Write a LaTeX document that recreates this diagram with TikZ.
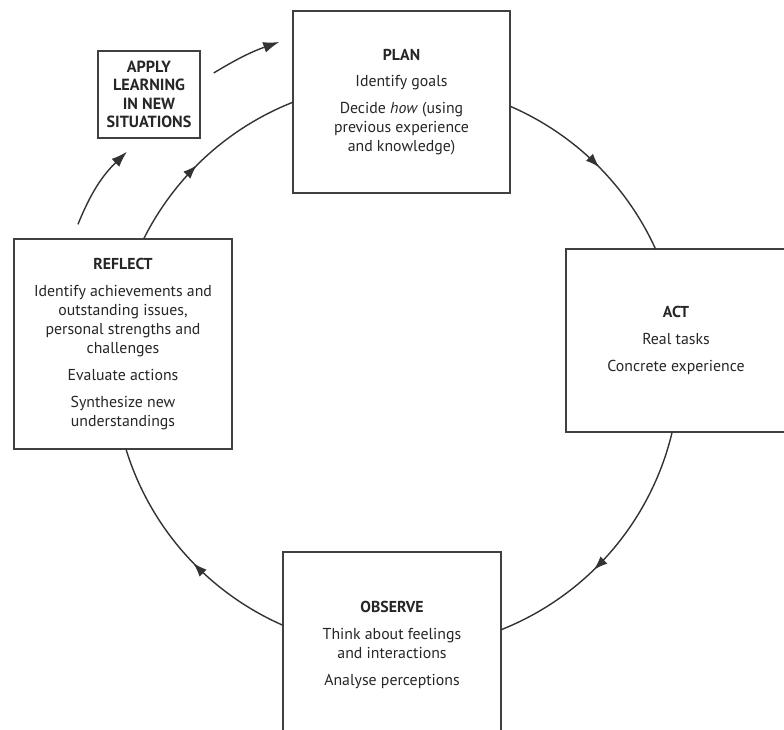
\documentclass[tikz,border=0pt]{standalone}
\usepackage{fontspec}
\setmainfont{PT Sans}
\usepackage{tikz}
\usetikzlibrary{arrows.meta, decorations.markings, calc, positioning}

\begin{document}
\begin{tikzpicture}[
  every node/.style = {font=\fontsize{9}{10.8}\selectfont, text=black!85},
  stage/.style = {draw=black!75, line width=0.8pt, fill=white, align=center,
                  minimum width=4.36cm, minimum height=3.66cm, inner sep=2pt},
  note/.style  = {draw=black!75, line width=0.8pt, fill=white, align=center,
                  minimum width=2.04cm, minimum height=1.74cm, inner sep=2pt,
                  font=\fontsize{9.2}{10.4}\selectfont\bfseries},
  cyc/.style   = {line width=0.8pt, black!80},
  tipat/.style = {decoration={markings, mark=at position #1 with
                  {\arrow{Latex[length=2.8mm, width=2mm]}}},
                  postaction={decorate}},
  lnk/.style   = {line width=0.8pt, black!80,
                  -{Latex[length=3.2mm, width=2.2mm]}},
]

% picture frame (784 x 729 px at 0.02cm/px)
\useasboundingbox (0,0) rectangle (15.68,-14.58);
\clip (0,0) rectangle (15.68,-14.58);

\def\R{5.66}   % cycle radius
\def\gap{4.5pt} % gap between items

% ── STAGES ──────────────────────────────────────────────────────────────────
\node[stage, minimum width=4.34cm, minimum height=3.64cm] at (8.03,-2.04) (plan)
  {\textbf{PLAN}\\[\gap]
   Identify goals\\[\gap]
   Decide \emph{how} (using\\
   previous experience\\
   and knowledge)};

\node[stage, minimum width=4.4cm] at (13.52,-6.81) (act)
  {\textbf{ACT}\\[\gap]
   Real tasks\\[\gap]
   Concrete experience};

\node[stage, minimum height=3.72cm] at (7.84,-12.9) (observe)
  {\textbf{OBSERVE}\\[\gap]
   Think about feelings\\
   and interactions\\[\gap]
   Analyse perceptions};

\node[stage, minimum width=4.36cm, minimum height=4.2cm] at (2.46,-6.88) (reflect)
  {\textbf{REFLECT}\\[\gap]
   Identify achievements and\\
   outstanding issues,\\
   personal strengths and\\
   challenges\\[\gap]
   Evaluate actions\\[\gap]
   Synthesize new\\
   understandings};

\node[note] at (2.98,-1.89) (apply)
  {APPLY\\LEARNING\\IN NEW\\SITUATIONS};

% ── CYCLE ───────────────────────────────────────────────────────────────────
\draw[cyc, tipat=0.52] ([yshift=-0.09cm]plan.east)
  arc[start angle=66.5, end angle=24.4, radius=\R];
\draw[cyc, tipat=0.59] ([xshift=-0.08cm]act.south)
  arc[start angle=-13.5, end angle=-68.4, radius=\R];
\draw[cyc, tipat=0.45] ([yshift=0.4cm]observe.west)
  arc[start angle=246.2, end angle=197.1, radius=\R];
\draw[cyc, tipat=0.44] ([xshift=0.42cm]reflect.north)
  arc[start angle=153.3, end angle=111.6, radius=\R];

% ── APPLY LEARNING ──────────────────────────────────────────────────────────
\coordinate (rA) at ([xshift=-0.9cm, yshift=0.28cm]reflect.north);
\coordinate (aA) at ([xshift=-0.44cm, yshift=-0.26cm]apply.south);
\coordinate (aP) at ([xshift=0.26cm, yshift=0.43cm]apply.east);
\coordinate (pA) at ([xshift=-0.26cm, yshift=1.2cm]plan.west);

\draw[lnk] (rA) to[bend left=12] (aA);
\draw[lnk] (aP) to[bend left=6] (pA);

\end{tikzpicture}
\end{document}
